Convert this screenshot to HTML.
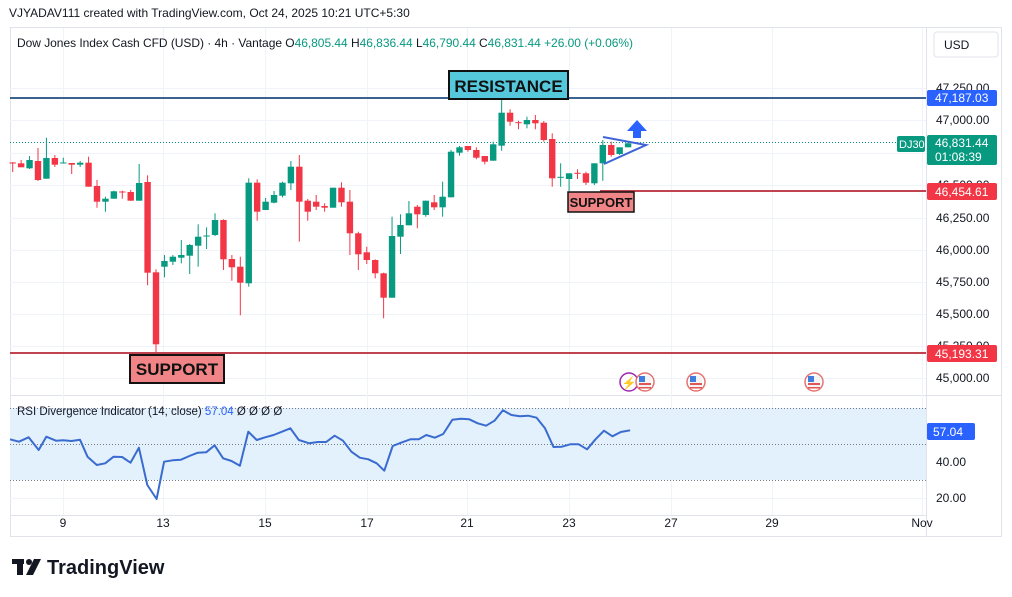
<!DOCTYPE html>
<html><head><meta charset="utf-8">
<style>
html,body{margin:0;padding:0;background:#fff;width:1012px;height:597px;overflow:hidden;font-family:"Liberation Sans",sans-serif;}
svg{display:block}
</style></head><body>
<svg id="s" width="1012" height="597" xmlns="http://www.w3.org/2000/svg" font-family="Liberation Sans, sans-serif">
<rect x="0" y="0" width="1012" height="597" fill="#fff"/>
<text x="9" y="17" font-size="12" fill="#131722">VJYADAV111 created with TradingView.com, Oct 24, 2025 10:21 UTC+5:30</text>
<rect x="10.5" y="27.5" width="991" height="509" fill="none" stroke="#e0e3eb"/>
<line x1="926.5" y1="27" x2="926.5" y2="537" stroke="#e0e3eb"/>
<line x1="10" y1="395.5" x2="1001" y2="395.5" stroke="#e0e3eb"/>
<line x1="10" y1="515.5" x2="926" y2="515.5" stroke="#e0e3eb"/>
<g id="grid" stroke="#f0f3fa" stroke-width="1"></g>
<rect x="10" y="408" width="916" height="72" fill="#e3f1fc"/>
<g stroke="#787b86" stroke-dasharray="1,2" stroke-width="1">
<line x1="10" y1="408.5" x2="926" y2="408.5"/><line x1="10" y1="444.5" x2="926" y2="444.5"/><line x1="10" y1="480.5" x2="926" y2="480.5"/>
</g>
<text x="17" y="47" font-size="12" fill="#131722" textLength="616">Dow Jones Index Cash CFD (USD) · 4h · Vantage  O<tspan fill="#089981">46,805.44</tspan>  H<tspan fill="#089981">46,836.44</tspan>  L<tspan fill="#089981">46,790.44</tspan>  C<tspan fill="#089981">46,831.44</tspan>  <tspan fill="#089981">+26.00 (+0.06%)</tspan></text>
<line x1="10" y1="142.5" x2="897" y2="142.5" stroke="#089981" stroke-dasharray="1,2"/>
<line x1="10" y1="98" x2="926" y2="98" stroke="#3c6390" stroke-width="2"/>
<line x1="600" y1="191" x2="926" y2="191" stroke="#c0434f" stroke-width="2"/>
<line x1="10" y1="353" x2="926" y2="353" stroke="#c0434f" stroke-width="2"/>
<g id="candles"></g>
<polyline id="rsi" fill="none" stroke="#3a6bcf" stroke-width="2" stroke-linejoin="round"/>
<text x="17" y="415" font-size="11.5" fill="#131722">RSI Divergence Indicator (14, close)  <tspan fill="#2962ff">57.04</tspan>  Ø  Ø  Ø  Ø</text>
<g stroke="#3f64d8" stroke-width="2" fill="none"><polyline points="603,137 646,145 604,164"/></g>
<polygon points="637,120 647,131 641,131 641,138 633,138 633,131 627,131" fill="#2962ff"/>
<rect x="449" y="71" width="119" height="28" fill="#55c8dc" stroke="#111" stroke-width="2"/>
<text x="508.5" y="92" font-size="17" font-weight="bold" text-anchor="middle" fill="#111">RESISTANCE</text>
<rect x="130" y="355" width="94" height="28" fill="#f08486" stroke="#111" stroke-width="2"/>
<text x="177" y="375" font-size="17" font-weight="bold" text-anchor="middle" fill="#111">SUPPORT</text>
<rect x="568" y="192" width="66" height="20" fill="#f08486" stroke="#111" stroke-width="1.5"/>
<text x="601" y="207" font-size="13" font-weight="bold" text-anchor="middle" fill="#111">SUPPORT</text>
<circle cx="629" cy="382" r="9" fill="#fff" stroke="#9c27b0" stroke-width="1.5"/>
<text x="629" y="387" font-size="12" fill="#9c27b0" text-anchor="middle">⚡</text>
<g id="flags"></g>
<rect x="934" y="32" width="64" height="25" rx="3" fill="#fff" stroke="#e0e3eb"/>
<text x="944" y="49" font-size="12" fill="#131722">USD</text>
<g id="plab" font-size="12" fill="#131722"></g>
<rect x="927" y="90" width="70" height="16" rx="2" fill="#2962ff"/><text x="935" y="102" font-size="12" fill="#fff">47,187.03</text>
<rect x="897" y="136" width="28" height="16" rx="2" fill="#089981"/><text x="899" y="148" font-size="11" fill="#fff">DJ30</text>
<rect x="927" y="135" width="70" height="30" rx="2" fill="#089981"/><text x="935" y="147" font-size="12" fill="#fff">46,831.44</text><text x="935" y="161" font-size="12" fill="#fff">01:08:39</text>
<rect x="927" y="183" width="70" height="17" rx="2" fill="#f23645"/><text x="935" y="196" font-size="12" fill="#fff">46,454.61</text>
<rect x="927" y="345" width="70" height="17" rx="2" fill="#f23645"/><text x="935" y="358" font-size="12" fill="#fff">45,193.31</text>
<rect x="927" y="423" width="48" height="17" rx="2" fill="#2962ff"/><text x="933" y="436" font-size="12" fill="#fff">57.04</text>
<text x="936" y="466" font-size="12" fill="#131722">40.00</text>
<text x="936" y="502" font-size="12" fill="#131722">20.00</text>
<g id="tlab" font-size="12" fill="#131722" text-anchor="middle"></g>
<g fill="#131722"><rect x="12" y="559" width="12" height="5"/><rect x="17" y="559" width="6" height="16"/><circle cx="29" cy="562" r="3"/><polygon points="34,559 41,559 33,575 26,575"/></g>
<text x="47" y="574" font-size="20" font-weight="bold" fill="#131722">TradingView</text>
</svg>
<script>
const NS="http://www.w3.org/2000/svg";
function el(p,t,a){const e=document.createElementNS(NS,t);for(const k in a)e.setAttribute(k,a[k]);document.getElementById(p).appendChild(e);return e;}
const vx=[63,163,265,367,467,569,671,772,922];
vx.forEach(x=>el("grid","line",{x1:x+.5,y1:28,x2:x+.5,y2:515}));
const py=[88,120,153,185,218,250,282,314,346,378];
py.forEach(y=>el("grid","line",{x1:10,y1:y+.5,x2:926,y2:y+.5}));
el("grid","line",{x1:10,y1:426.5,x2:926,y2:426.5});el("grid","line",{x1:10,y1:462.5,x2:926,y2:462.5});el("grid","line",{x1:10,y1:498.5,x2:926,y2:498.5});
const pl=[[88,"47,250.00"],[120,"47,000.00"],[185,"46,500.00"],[218,"46,250.00"],[250,"46,000.00"],[282,"45,750.00"],[314,"45,500.00"],[346,"45,250.00"],[378,"45,000.00"]];
pl.forEach(([y,t])=>{const e=el("plab","text",{x:936,y:y+4});e.textContent=t;});
[[63,"9"],[163,"13"],[265,"15"],[367,"17"],[467,"21"],[569,"23"],[671,"27"],[772,"29"],[922,"Nov"]].forEach(([x,t])=>{const e=el("tlab","text",{x:x,y:527});e.textContent=t;});
const C=[
[162.5,163.5,162,172,0],[163.3,167.3,160,167,0],[160,168.3,156,169,1],[161,180,148,181,0],[158,178.7,137.7,178.7,1],
[158,164.7,155,167,0],[162.5,163.5,157.7,163,1],[163,164.7,163,174,0],[162.7,164.7,161,167,1],[162.7,186.7,156.7,186.7,0],
[186,201.7,180,207.7,0],[198.7,201.7,196.7,211.7,1],[191.3,198.7,190.7,198.7,1],[191.5,192.5,190.7,198.7,0],[192,200.7,190,200.7,0],
[183,200.7,164,200.7,1],[182,272.7,175.3,285.3,0],[272.3,344.3,269.3,353.3,0],[261,266.7,255,277.3,1],[256.7,261.7,255,265,1],
[255,257.7,240,263.3,1],[245,255.7,244,274,1],[236.7,245.7,224.3,266.7,1],[235.5,236.5,227.3,249,1],[220,235,213.3,236,1],
[220,259.3,219.3,270,0],[259,267.3,255,280.7,0],[266.7,282.7,256.7,315.3,0],[182.7,283.3,178.3,286.7,1],[182.7,211.7,179.3,220.7,0],
[201.7,210,198,210,1],[195,202.7,191,203.3,1],[182.7,195.7,181.7,197.3,1],[166.7,183.3,161,190,1],[166.7,201.7,155,241.7,0],
[200.7,211.7,199,220.7,0],[201.7,206.7,195,210,0],[206,207.7,203.3,211.7,0],[187.7,207.7,187.7,207.7,1],[187.7,202.3,182.3,206.7,0],
[201.7,233.3,190,255,0],[233.3,254.3,231.7,270,0],[252.3,260,246.7,264,0],[260,273.3,259.3,278.3,0],[273.3,297.7,272.7,318.3,0],
[236,297.7,216.7,297.7,1],[225,236.7,214.3,254,1],[213.3,225.3,201,225.3,1],[206.7,214.3,205,228.3,0],[200.7,215,200.7,216.7,1],
[202.3,207.3,195,210,0],[196.7,207.3,181.7,216.7,1],[151.7,197.3,150,197.3,1],[147.3,152.7,146,155.7,1],[146,150,146,151.7,0],
[150,157.7,147.3,159.3,0],[156,161.7,156,164.3,0],[144.3,160.7,141.7,160.7,1],[112.7,145.7,98.3,150.7,1],[112.7,121.7,109.3,125.7,0],
[122.2,123.2,120.7,129.3,0],[120,124.3,116.7,128.3,1],[120,123.3,115,129.3,0],[122.7,140,121,141.7,0],[139,178.3,133.3,186.7,0],
[176.8,177.8,163.3,186.7,1],[173.3,179,173.3,191,1],[172.8,173.8,169.3,179,0],[173.3,182.7,171.7,185,0],[163.3,183.3,163.3,185,1],
[145,163.3,140,180.7,1],[145,155,141.7,156.7,0],[147.3,154,147.3,155,1],[143.3,147.3,142.3,147.3,1]];
C.forEach((c,i)=>{const x=12.7+i*8.43;const col=c[4]?"#089981":"#f23645";
el("candles","line",{x1:x,y1:c[2],x2:x,y2:c[3],stroke:col,"stroke-width":1});
const h=Math.max(1,c[1]-c[0]);el("candles","rect",{x:x-3.2,y:c[0],width:6.4,height:h,fill:col});});
const R=[[0,133],[45,140],[68,127],[92,165],[110,125],[133,137],[150,136],[170,138],[190,134],[208,185],[230,210],[250,205],[270,185],[290,186],[310,203],[330,158],[350,270],[372,312],[390,200],[410,196],[430,194],[450,183],[470,173],[490,172],[510,151],[530,190],[550,198],[570,212],[590,110],[610,135],[630,127],[650,120],[670,110],[690,100],[710,135],[735,145],[755,141],[775,141],[795,122],[815,137],[835,170],[855,188],[875,193],[895,205],[913,227],[933,153],[953,143],[975,133],[995,133],[1013,120],[1033,128],[1053,117],[1075,74],[1095,71],[1115,73],[1135,85],[1155,92],[1175,77],[1195,46],[1215,60],[1235,64],[1255,62],[1275,68],[1295,100],[1315,156],[1335,155],[1355,148],[1375,148],[1395,163],[1415,133],[1435,107],[1455,124],[1475,111],[1497,106]];
document.getElementById("rsi").setAttribute("points",R.map(p=>Math.max(10,p[0]/2.376).toFixed(1)+","+(395+p[1]/3).toFixed(1)).join(" "));
[645,696,814].forEach(x=>{el("flags","circle",{cx:x,cy:382,r:9,fill:"#fff",stroke:"#e57373","stroke-width":1.5});
el("flags","rect",{x:x-6,y:376,width:12,height:12,fill:"#f3f3f3"});
el("flags","rect",{x:x-6,y:383,width:12,height:2,fill:"#e05555"});
el("flags","rect",{x:x-6,y:387,width:12,height:1.5,fill:"#e05555"});
el("flags","rect",{x:x-6,y:376,width:6,height:6,fill:"#3f7ee0"});});
</script>
</body></html>
